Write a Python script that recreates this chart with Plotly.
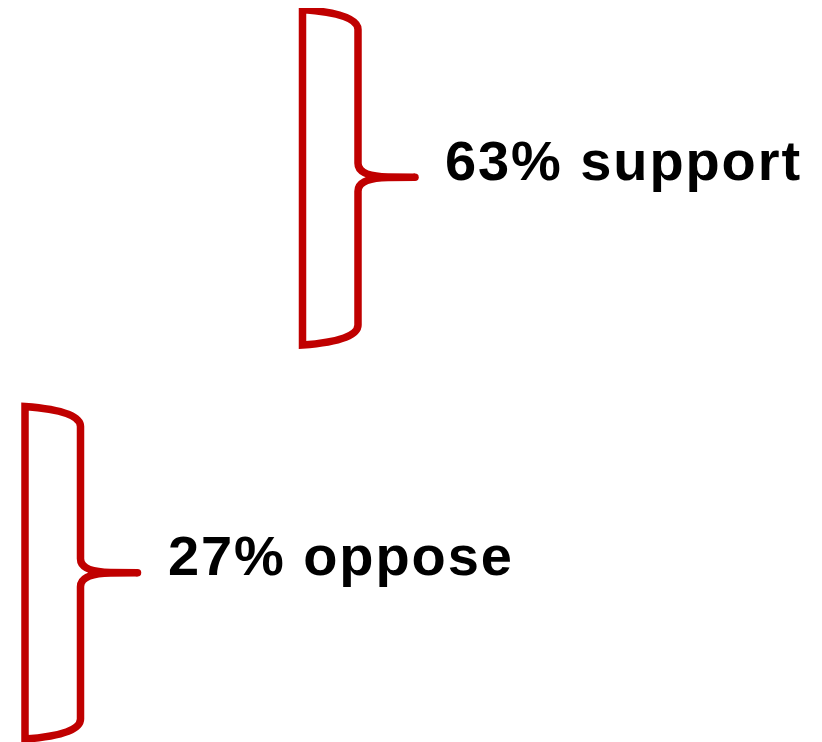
import plotly.graph_objects as go

# ---- data ----
categories = ["support", "oppose"]
percents = [63, 27]

# ---- layout (screen pixel space, y downward) ----
W, H = 822, 742
OFF = 8  # page body margin
RED = "#C00000"
# brace geometry: left x, top y, bottom y
brace_left = [302.5, 25.0]
brace_top = [9.5, 406.5]
brace_bottom = [345.0, 739.0]
brace_width = 55.5
tip_len = 57.0
label_gap = 28.0
font_size = 56
letter_sp = 1.9


def brace_path(xl, yt, yb, w, tl):
    xr = xl + w
    ym = (yt + yb) / 2
    xt = xr + tl
    xm = xr + 30
    p = []
    p.append(f"M {xt},{ym}")
    p.append(f"L {xm},{ym - 0.3}")
    p.append(f"Q {xr},{ym - 1} {xr},{ym - 14}")
    p.append(f"L {xr},{yt + 20}")
    p.append(f"Q {xr},{yt + 4} {xl},{yt}")
    p.append(f"L {xl},{yb}")
    p.append(f"Q {xr},{yb - 4} {xr},{yb - 20}")
    p.append(f"L {xr},{ym + 14}")
    p.append(f"Q {xr},{ym + 1} {xm},{ym + 0.3}")
    p.append("Z")
    return " ".join(p)


fig = go.Figure()
shapes = []
annotations = []
tips_x, tips_y = [], []
for cat, pct, xl, yt, yb in zip(categories, percents, brace_left, brace_top, brace_bottom):
    shapes.append(dict(
        type="path", xref="x", yref="y",
        path=brace_path(xl, yt, yb, brace_width, tip_len),
        line=dict(color=RED, width=7.5),
        fillcolor="rgba(0,0,0,0)",
    ))
    ym = (yt + yb) / 2
    tips_x.append(xl + brace_width + tip_len)
    tips_y.append(ym)
    annotations.append(dict(
        x=xl + brace_width + tip_len + label_gap, y=ym - 17,
        xref="x", yref="y", xanchor="left", yanchor="middle",
        text=f"<b><span style='letter-spacing:{letter_sp}px'>{pct}% {cat}</span></b>",
        showarrow=False,
        font=dict(family="Liberation Sans, Arial, sans-serif", size=font_size, color="black"),
    ))

fig.add_trace(go.Scatter(
    x=tips_x, y=tips_y, mode="markers",
    marker=dict(color=RED, size=7.5, line=dict(width=0)),
    hoverinfo="skip", showlegend=False,
))

fig.update_layout(
    width=W, height=H,
    margin=dict(l=0, r=0, t=0, b=0),
    paper_bgcolor="white", plot_bgcolor="white",
    shapes=shapes, annotations=annotations,
    xaxis=dict(range=[OFF, W + OFF], visible=False, fixedrange=True),
    yaxis=dict(range=[H + OFF, OFF], visible=False, fixedrange=True),
    showlegend=False,
)

fig.write_html("out.html", config={"displayModeBar": False})
